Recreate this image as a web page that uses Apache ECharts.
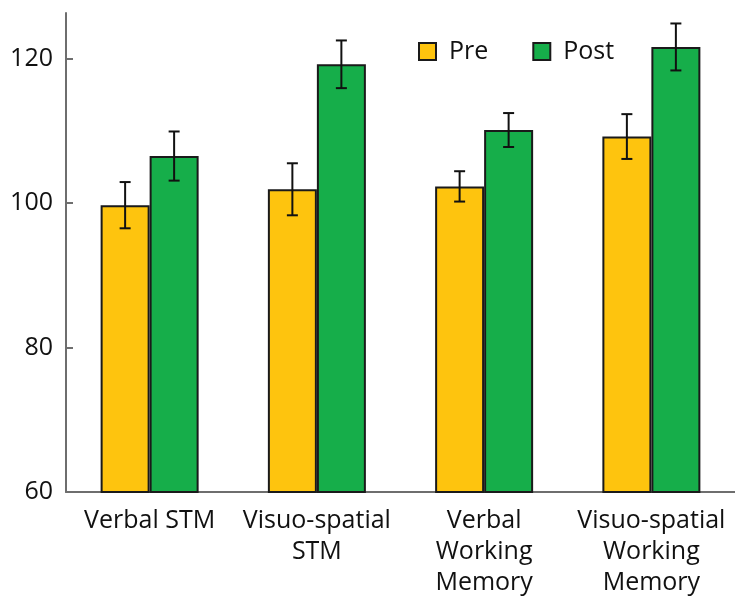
<!DOCTYPE html>
<html>
<head>
<meta charset="utf-8">
<script src="https://cdn.jsdelivr.net/npm/echarts@6/dist/echarts.min.js"></script>
<style>
html,body{margin:0;padding:0;background:#fff;}
#chart{width:735px;height:602px;}
</style>
</head>
<body>
<div id="chart"></div>
<script>
var categories = ['Verbal STM', 'Visuo-spatial\nSTM', 'Verbal\nWorking\nMemory', 'Visuo-spatial\nWorking\nMemory'];
var preMean = [99.7, 101.9, 102.3, 109.2];
var postMean = [106.5, 119.2, 110.1, 121.6];
var preErr = [3.2, 3.6, 2.1, 3.1];
var postErr = [3.4, 3.3, 2.35, 3.25];
var yTicks = [60, 80, 100, 120];

var FONT = 'Open Sans';
var BAR_W = 49;

function errorSeries(name, means, errs, offset) {
  var data = means.map(function (m, i) { return [i, m - errs[i], m + errs[i]]; });
  return {
    type: 'custom',
    name: name + ' err',
    z: 10,
    silent: true,
    data: data,
    encode: { x: 0, y: [1, 2] },
    renderItem: function (params, api) {
      var lo = api.coord([api.value(0), api.value(1)]);
      var hi = api.coord([api.value(0), api.value(2)]);
      var x = lo[0] + offset;
      var cap = 5.5;
      var style = { stroke: '#111', lineWidth: 2, fill: null };
      return {
        type: 'group',
        children: [
          { type: 'line', shape: { x1: x, y1: lo[1], x2: x, y2: hi[1] }, style: style },
          { type: 'line', shape: { x1: x - cap, y1: lo[1], x2: x + cap, y2: lo[1] }, style: style },
          { type: 'line', shape: { x1: x - cap, y1: hi[1], x2: x + cap, y2: hi[1] }, style: style }
        ]
      };
    }
  };
}

var chart = echarts.init(document.getElementById('chart'));
chart.setOption({
  animation: false,
  backgroundColor: '#fff',
  textStyle: { fontFamily: FONT },
  legend: {
    data: ['Pre', 'Post'],
    left: 418,
    top: 39,
    padding: 0,
    itemWidth: 17,
    itemHeight: 17,
    itemGap: 44,
    icon: 'rect',
    textStyle: { fontFamily: FONT, fontSize: 25, color: '#111', padding: [0, 0, 0, 8] }
  },
  grid: { left: 66, right: -11, top: 13, bottom: 110, containLabel: false },
  xAxis: {
    type: 'category',
    data: categories,
    axisLine: { lineStyle: { color: '#6e6e6e', width: 2 } },
    axisTick: { show: false },
    axisLabel: {
      interval: 0,
      fontFamily: FONT,
      fontSize: 25,
      color: '#111',
      lineHeight: 31,
      margin: 13
    }
  },
  yAxis: {
    type: 'value',
    min: 60,
    max: 126.3,
    interval: 20,
    splitLine: { show: false },
    axisLine: { show: true, lineStyle: { color: '#6e6e6e', width: 2 } },
    axisTick: { show: true, inside: true, length: 7, lineStyle: { color: '#6e6e6e', width: 2 }, customValues: yTicks },
    axisLabel: { fontFamily: FONT, fontSize: 25, color: '#111', margin: 13, customValues: yTicks }
  },
  series: [
    {
      name: 'Pre', type: 'bar', data: preMean, barWidth: BAR_W, barGap: '0%',
      itemStyle: { color: '#FEC40E', borderColor: '#1a1a1a', borderWidth: 2 }
    },
    {
      name: 'Post', type: 'bar', data: postMean, barWidth: BAR_W, barGap: '0%',
      itemStyle: { color: '#16AE4A', borderColor: '#1a1a1a', borderWidth: 2 }
    },
    errorSeries('Pre', preMean, preErr, -BAR_W / 2),
    errorSeries('Post', postMean, postErr, BAR_W / 2)
  ]
});
</script>
</body>
</html>
